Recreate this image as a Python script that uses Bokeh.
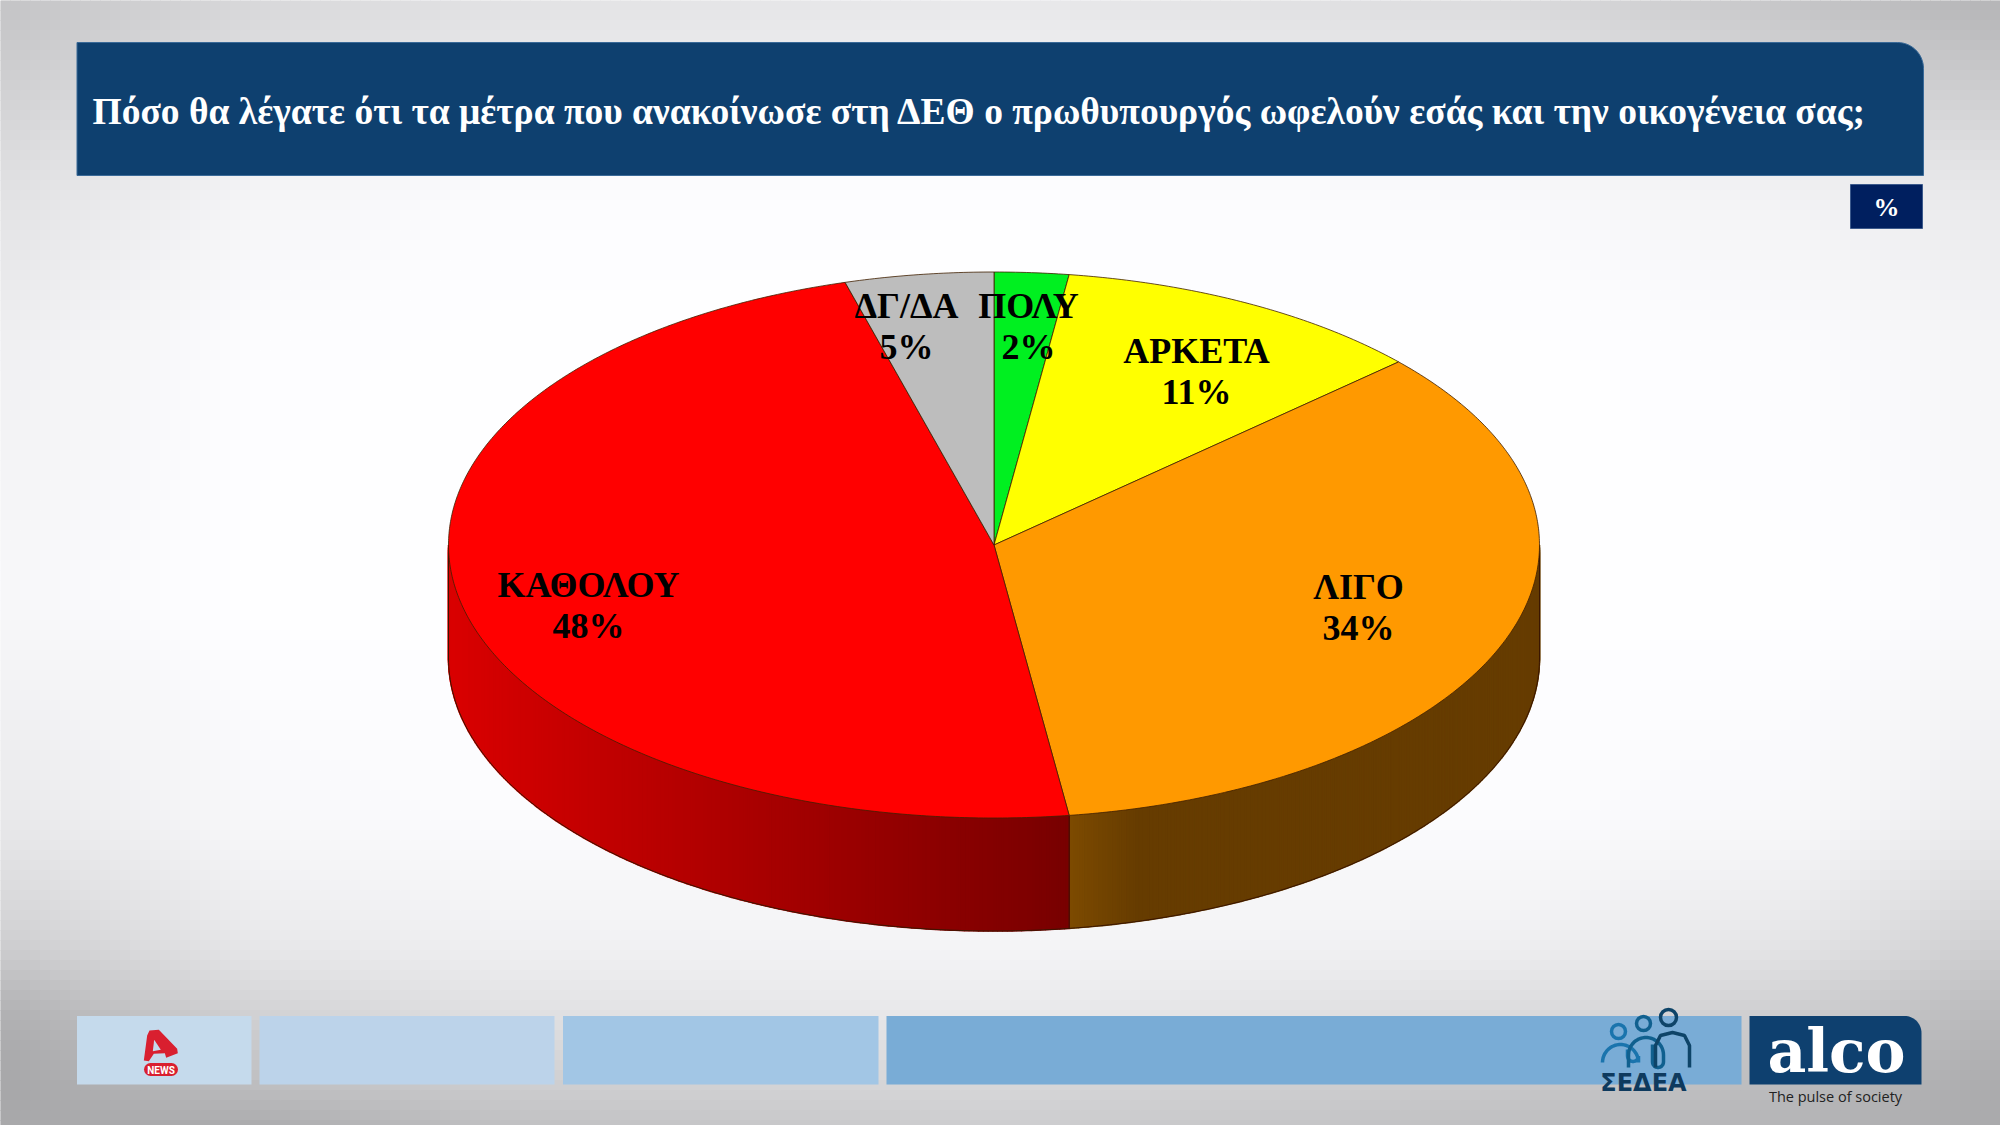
import numpy as np
from bokeh.plotting import figure
from bokeh.embed import file_html
from bokeh.resources import INLINE
from bokeh.core.properties import value

# ---- chart data ----
title = "Πόσο θα λέγατε ότι τα μέτρα που ανακοίνωσε στη ΔΕΘ ο πρωθυπουργός ωφελούν εσάς και την οικογένεια σας;"
categories = ["ΠΟΛΥ", "ΑΡΚΕΤΑ", "ΛΙΓΟ", "ΚΑΘΟΛΟΥ", "ΔΓ/ΔΑ"]
percent_labels = ["2%", "11%", "34%", "48%", "5%"]
slice_shares = [2.2, 11.1, 34.5, 47.8, 4.4]
top_colors = ["#00f020", "#ffff00", "#ff9900", "#ff0000", "#bdbdbd"]
wall_near = [(0, 150, 30), (150, 150, 0), (125, 75, 0), (120, 0, 0), (110, 110, 110)]
wall_far = [(0, 150, 30), (150, 150, 0), (102, 60, 0), (218, 0, 0), (110, 110, 110)]
label_x = [1028, 1196, 1358, 588, 906]
label_y = [305, 350, 586, 584, 305]

# ---- layout ----
W, H = 2000, 1125
CX, CY, RX, RY, DEPTH = 993.5, 544.5, 545.5, 273, 113
BLUE = "#0e406f"

p = figure(width=W, height=H, x_range=(0, W), y_range=(H, 0),
           output_backend="svg", toolbar_location=None, min_border=0)
p.axis.visible = False
p.grid.visible = False
p.outline_line_color = None

# background: soft grey vignette, as a fine mosaic
gx = [0, 250, 500, 1000, 1500, 1800, 2000]
gy = [0, 40, 190, 350, 600, 825, 950, 1010, 1090, 1125]
gv = np.array([[195, 215, 225, 232, 218, 195, 178],
               [200, 220, 230, 238, 226, 205, 190],
               [225, 245, 252, 254, 250, 242, 232],
               [240, 253, 255, 255, 255, 252, 245],
               [248, 255, 255, 255, 255, 255, 250],
               [232, 248, 252, 252, 252, 248, 235],
               [205, 232, 240, 245, 240, 228, 205],
               [175, 210, 225, 235, 220, 205, 185],
               [165, 190, 205, 215, 200, 185, 170],
               [170, 168, 190, 205, 190, 180, 170]], dtype=float)
STEP = 10
xs = np.arange(0, W, STEP)
ys = np.arange(0, H, STEP)
col = np.array([np.interp(xs + STEP / 2, gx, row) for row in gv])
img = np.array([np.interp(ys + STEP / 2, gy, col[:, i]) for i in range(len(xs))]).T
kernel = np.hanning(11)
kernel /= kernel.sum()
pad = np.pad(img, 5, mode="edge")
pad = np.apply_along_axis(lambda r: np.convolve(r, kernel, mode="same"), 0, pad)
pad = np.apply_along_axis(lambda r: np.convolve(r, kernel, mode="same"), 1, pad)
img = pad[5:-5, 5:-5]
lefts, tops = np.meshgrid(xs, ys)
shades = ["#%02x%02x%02x" % (int(v), int(v), min(255, int(v) + 2)) for v in img.ravel()]
p.quad(left=lefts.ravel(), right=lefts.ravel() + STEP, top=tops.ravel(), bottom=tops.ravel() + STEP,
       fill_color=shades, line_color=shades, line_width=1)

# header + footer blocks
def rounded_top_right(x0, x1, y0, y1, r, color, edge=None):
    t = np.linspace(0, np.pi / 2, 16)
    px = [x0] + list(x1 - r + r * np.sin(t)) + [x1, x0]
    py = [y0] + list(y0 + r - r * np.cos(t)) + [y1, y1]
    p.patch(px, py, fill_color=color, line_color=edge, line_width=1)

rounded_top_right(76.5, 1923, 42, 175, 26, BLUE, "#3a6a98")
p.quad(left=1850, right=1922, top=184, bottom=228, fill_color="#001f5f", line_color="#3c5a8c", line_width=1)
p.text([92], [111], text=[title], text_font=value("Liberation Serif"), text_font_style="bold",
       text_font_size="37.5px", text_color="white", text_baseline="middle", text_align="left")
p.text([1886], [207], text=["%"], text_font=value("Liberation Serif"), text_font_style="bold",
       text_font_size="26px", text_color="white", text_baseline="middle", text_align="center")

p.quad(left=[76.5, 259, 562.5, 886], right=[251, 554, 878, 1741], top=1015.5, bottom=1084,
       fill_color=["#c5daec", "#bcd3ea", "#a2c6e5", "#79acd6"], line_color=None)
rounded_top_right(1749, 1921, 1015.5, 1084, 17, BLUE)

# Alpha News mark
RED = "#d91f2f"
logo_x = np.array([55, 65, 72, 100, 155, 157, 122, 118, 85, 70]) / 3 + 125
logo_y = np.array([120, 45, 30, 28, 85, 98, 112, 98, 100, 122]) / 3 + 1020
p.patch(logo_x, logo_y, fill_color=RED, line_color=None)
p.patch(np.array([86, 106, 82]) / 3 + 125, np.array([58, 88, 92]) / 3 + 1020,
        fill_color="#c5daec", line_color=None)
p.line([150, 171], [1069, 1069], line_color=RED, line_width=13, line_cap="round")
p.text([160.5], [1069.5], text=["NEWS"], text_font=value("Roboto"), text_font_style="bold",
       text_font_size="10px", text_color="white", text_baseline="middle", text_align="center")

# ΣΕΔΕΑ mark
def arch(x0, x1, ytop, ybot, color, hook_to, hook_top):
    r = (x1 - x0) / 2
    t = np.linspace(np.pi, 0, 24)
    hr = (x1 - hook_to) / 2
    u = np.linspace(0, np.pi, 12)
    px = [x0] + list((x0 + r) + r * np.cos(t)) + [x1] + list(x1 - hr + hr * np.cos(u)) + [hook_to]
    py = [ybot] + list(ytop + r - r * np.sin(t)) + [ybot - hr] + list(ybot - hr + hr * np.sin(u)) + [hook_top]
    p.line(px, py, line_color=color, line_width=3.5)

arch(1602, 1638, 1044, 1061, "#1a74ad", 1627, 1049)
arch(1628, 1663, 1037, 1067, "#10608f", 1652, 1044)
p.line([1655, 1655, 1660, 1672, 1684, 1689, 1689], [1067, 1045, 1035, 1032, 1035, 1045, 1067],
       line_color="#0e4468", line_width=3.5)
p.scatter([1618, 1643, 1668], [1031, 1023, 1017], size=[14, 14, 16], fill_color=None,
          line_color=["#1a74ad", "#10608f", "#0e4468"], line_width=3.5)
p.text([1643], [1082], text=["ΣΕΔΕΑ"], text_font=value("DejaVu Sans"), text_font_style="bold",
       text_font_size="24px", text_color="#0e3a5e", text_baseline="middle", text_align="center")

# alco mark
p.text([1836], [1050], text=["alco"], text_font=value("DejaVu Serif"), text_font_style="bold",
       text_font_size="60px", text_color="white", text_baseline="middle", text_align="center")
p.text([1835], [1096], text=["The pulse of society"], text_font=value("Open Sans"),
       text_font_size="14.5px", text_color="#222222", text_baseline="middle", text_align="center")

# ---- pie, from the shares ----
def ex(a):
    return CX + RX * np.sin(a)

def ey(a):
    return CY - RY * np.cos(a)

total = sum(slice_shares)
edges = 2 * np.pi * np.cumsum([0] + slice_shares) / total

# side wall (visible half of the ellipse), drawn in thin shaded strips
for i in range(len(slice_shares)):
    a0 = max(edges[i], np.pi / 2)
    a1 = min(edges[i + 1], 3 * np.pi / 2)
    if a1 <= a0:
        continue
    n = max(2, int((a1 - a0) / np.radians(0.5)))
    ts = np.linspace(a0, a1, n + 1)
    x_near, x_far = ex(a1), ex(a0)
    if i == 3:
        x_near, x_far = ex(a0), ex(a1)
    span = abs(x_far - x_near)
    px, py, colors = [], [], []
    for t0, t1 in zip(ts[:-1], ts[1:]):
        d = abs(ex((t0 + t1) / 2) - x_near)
        f = min(1.0, d / span) if i == 3 else min(1.0, d / 70)
        c = [int(wall_near[i][k] + (wall_far[i][k] - wall_near[i][k]) * f) for k in range(3)]
        colors.append("#%02x%02x%02x" % tuple(c))
        px.append([ex(t0), ex(t1), ex(t1), ex(t0)])
        py.append([ey(t0), ey(t1), ey(t1) + DEPTH, ey(t0) + DEPTH])
    p.patches(px, py, fill_color=colors, line_color=colors, line_width=1.6)

# wall outline
tw = np.linspace(np.pi / 2, 3 * np.pi / 2, 200)
p.line(ex(tw), ey(tw) + DEPTH, line_color="#3a1500", line_width=1)
p.multi_line([[ex(np.pi / 2)] * 2, [ex(3 * np.pi / 2)] * 2, [ex(edges[3])] * 2],
             [[ey(np.pi / 2), ey(np.pi / 2) + DEPTH], [ey(3 * np.pi / 2), ey(3 * np.pi / 2) + DEPTH],
              [ey(edges[3]), ey(edges[3]) + DEPTH]],
             line_color="#3a1500", line_width=1)

# top face
for i in range(len(slice_shares)):
    n = max(8, int((edges[i + 1] - edges[i]) / np.radians(0.5)))
    t = np.linspace(edges[i], edges[i + 1], n)
    p.patch([CX] + list(ex(t)), [CY] + list(ey(t)), fill_color=top_colors[i],
            line_color="#402000", line_width=0.8)

# labels
for cat, pct, x, y in zip(categories, percent_labels, label_x, label_y):
    p.text([x], [y], text=[cat], text_font=value("Liberation Serif"), text_font_style="bold",
           text_font_size="36px", text_color="black", text_baseline="middle", text_align="center")
    p.text([x], [y + 41], text=[pct], text_font=value("Liberation Serif"), text_font_style="bold",
           text_font_size="36px", text_color="black", text_baseline="middle", text_align="center")

open("out.html", "w").write(file_html(p, INLINE))
